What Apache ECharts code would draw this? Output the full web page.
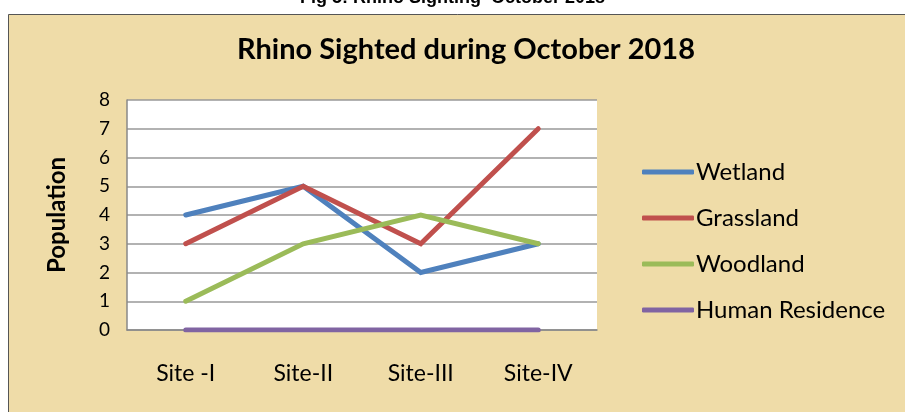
<!DOCTYPE html>
<html><head><meta charset="utf-8">
<script src="https://cdn.jsdelivr.net/npm/echarts@6/dist/echarts.min.js"></script>
<style>html,body{margin:0;padding:0;background:#fff;}#c{width:905px;height:412px;}</style>
</head><body><div id="c"></div>
<script>
const categories = ['Site -I', 'Site-II', 'Site-III', 'Site-IV'];
const wetland = [4, 5, 2, 3];
const grassland = [3, 5, 3, 7];
const woodland = [1, 3, 4, 3];
const humanResidence = [0, 0, 0, 0];
const seriesNames = ['Wetland', 'Grassland', 'Woodland', 'Human Residence'];
const seriesData = [wetland, grassland, woodland, humanResidence];
const colors = ['#4F81BD', '#C0504D', '#9BBB59', '#8064A2'];

const chart = echarts.init(document.getElementById('c'), null, {renderer: 'canvas'});
chart.setOption({
  animation: false,
  graphic: [
    {type: 'rect', z: -10, shape: {x: 8.5, y: 14.5, width: 900, height: 400},
     style: {fill: '#EFDCA8', stroke: '#555', lineWidth: 1}},
    {type: 'rect', z: -9, shape: {x: 127, y: 100, width: 470, height: 230},
     style: {fill: '#FFFFFF'}},
    {type: 'text', left: 'center', top: -11, style: {text: 'Fig 5: Rhino Sighting  October 2018',
      font: 'bold 18px "Liberation Sans", Arial', fill: '#000'}}
  ],
  title: {
    text: 'Rhino Sighted during October 2018', left: 461, top: 30, textAlign: 'center',
    textStyle: {fontFamily: 'Lato', fontWeight: 'bold', fontSize: 29, color: '#000'}
  },
  legend: {
    orient: 'vertical', left: 637, top: 155, itemWidth: 52, itemHeight: 5, itemGap: 22,
    icon: 'roundRect',
    textStyle: {fontFamily: 'Lato', fontSize: 24, color: '#000', padding: [0, 0, 0, -3]},
    data: seriesNames
  },
  grid: {left: 127, top: 100, width: 470, height: 230, containLabel: false},
  xAxis: {
    type: 'category', data: categories, boundaryGap: true,
    axisLine: {lineStyle: {color: '#888', width: 1.5}},
    axisTick: {show: false},
    axisLabel: {fontFamily: 'Lato', fontSize: 23, color: '#000', margin: 32}
  },
  yAxis: {
    type: 'value', min: 0, max: 8, interval: 1,
    name: 'Population', nameLocation: 'middle', nameGap: 58, nameRotate: 90,
    nameTextStyle: {fontFamily: 'Lato', fontWeight: 'bold', fontSize: 24, color: '#000'},
    axisLine: {show: true, lineStyle: {color: '#888', width: 1.5}},
    axisTick: {show: false},
    axisLabel: {fontFamily: 'Lato', fontSize: 19, color: '#000', margin: 17},
    splitLine: {lineStyle: {color: '#999', width: 1.5}}
  },
  series: seriesNames.map((n, i) => ({
    name: n, type: 'line', data: seriesData[i], symbol: 'none',
    lineStyle: {width: 5, color: colors[i], cap: 'round', join: 'miter'},
    itemStyle: {color: colors[i]}
  }))
});
</script></body></html>
